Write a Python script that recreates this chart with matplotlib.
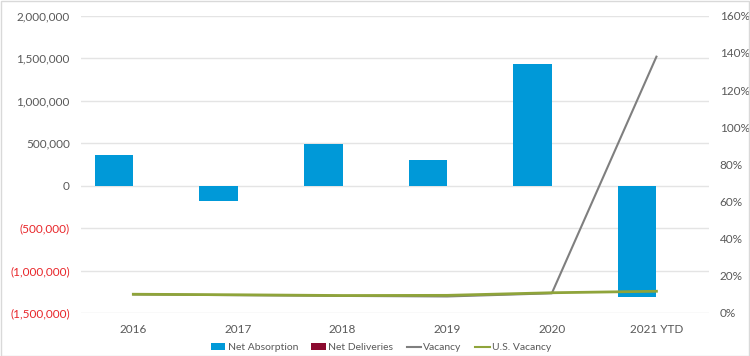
import matplotlib
matplotlib.use("Agg")
import matplotlib.pyplot as plt  # noqa: E402
import numpy as np  # noqa: E402
from matplotlib.patches import Patch, Rectangle  # noqa: E402
from matplotlib.lines import Line2D  # noqa: E402

plt.rcParams["font.family"] = ["Lato", "DejaVu Sans"]

# Data.
years = ["2016", "2017", "2018", "2019", "2020", "2021 YTD"]
net_absorption = [358000, -184000, 490000, 303000, 1433000, -1307000]
net_deliveries = [0, 0, 0, 0, 0, 0]
vacancy = [0.100, 0.096, 0.092, 0.089, 0.106, 1.38]
us_vacancy = [0.101, 0.098, 0.094, 0.095, 0.109, 0.117]
left_ticks = [-1500000, -1000000, -500000, 0, 500000, 1000000, 1500000, 2000000]
right_ticks = [0, 0.2, 0.4, 0.6, 0.8, 1.0, 1.2, 1.4, 1.6]

_BLUE = "#0099d8"
_MAROON = "#8b0a2f"
_GRAY = "#7f7f7f"
_GREEN = "#8fa43a"
_TEXT = "#595959"
_RED = "#e8262a"
_GRID = "#e4e4e4"


def _money(v):
    return f"({abs(v):,.0f})" if v < 0 else f"{v:,.0f}"


fig = plt.figure(figsize=(7.5, 3.56), dpi=100)
fig.patch.set_facecolor("white")
fig.patches.append(Rectangle((0.001, 0.001), 0.998, 0.997, transform=fig.transFigure,
                             fill=False, edgecolor="#d9d9d9", linewidth=1))

ax = fig.add_axes([0.108, 0.1208, 0.837, 0.8348])
ax2 = ax.twinx()

x = np.arange(len(years))
w = 0.368
ax.bar(x - w / 2, net_absorption, width=w, color=_BLUE, zorder=2)
ax.bar(x + w / 2, net_deliveries, width=w, color=_MAROON, zorder=2)

ax2.plot(x, vacancy, color=_GRAY, linewidth=1.5, zorder=3)
ax2.plot(x, us_vacancy, color=_GREEN, linewidth=2, zorder=4)

ax.set_xlim(-0.5, len(years) - 0.5)
ax.set_ylim(-1500000, 2000000)
ax2.set_ylim(0, 1.6)

ax.set_yticks(left_ticks)
ax.set_yticklabels([_money(v) for v in left_ticks])
for lab, v in zip(ax.get_yticklabels(), left_ticks):
    lab.set_color(_RED if v < 0 else _TEXT)
ax2.set_yticks(right_ticks)
ax2.set_yticklabels([f"{v * 100:.0f}%" for v in right_ticks], color=_TEXT)
ax.set_xticks(x)
ax.set_xticklabels(years, color=_TEXT)

ax.tick_params(axis="y", length=0, pad=8, labelsize=8.5)
ax2.tick_params(axis="y", length=0, pad=8, labelsize=8.5)
ax.tick_params(axis="x", length=0, pad=8, labelsize=8.5)

ax.grid(axis="y", color=_GRID, linewidth=1, zorder=0)
ax.set_axisbelow(True)
for a in (ax, ax2):
    for s in a.spines.values():
        s.set_visible(False)

handles = [
    Patch(facecolor=_BLUE, label="Net Absorption"),
    Patch(facecolor=_MAROON, label="Net Deliveries"),
    Line2D([], [], color=_GRAY, linewidth=1.5, label="Vacancy"),
    Line2D([], [], color=_GREEN, linewidth=1.5, label="U.S. Vacancy"),
]
fig.legend(handles=handles, loc="center", bbox_to_anchor=(0.508, 0.023), ncol=4,
           frameon=False, fontsize=7.5, labelcolor=_TEXT, handlelength=1.4,
           handleheight=0.6, handletextpad=0.2, columnspacing=1.3)

fig.savefig("out.png", dpi=100, facecolor="white")
